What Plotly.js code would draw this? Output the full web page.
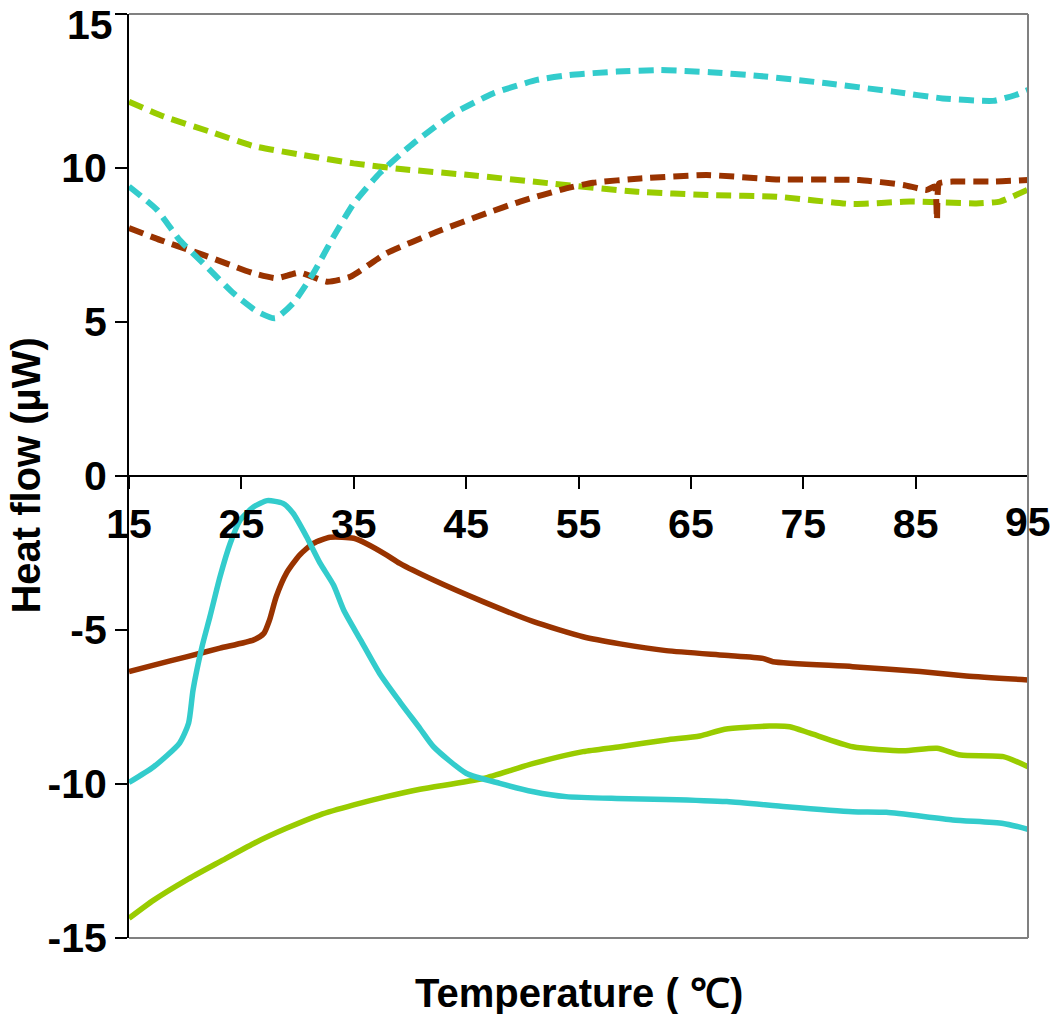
<!DOCTYPE html>
<html>
<head>
<meta charset="utf-8">
<script src="https://cdn.plot.ly/plotly-3.0.1.min.js"></script>
<style>
  body { margin: 0; background: #fff; }
  #plot { width: 1050px; height: 1014px; }
</style>
</head>
<body>
<div id="plot"></div>
<script>
// heating scans (solid)
var cyanX = [15, 17.2, 19.5, 20.3, 20.7, 21.5, 22.2, 23.1, 24.0, 24.9, 26.1, 27.3, 28.7, 29.6, 30.8, 32.0, 33.2, 34.1, 35.6, 37.3, 39.1, 40.9, 42.1, 45.0, 48.0, 51.0, 53.9, 58.4, 62.8, 68.2, 73.5, 79.4, 82.4, 88.3, 92.8, 95];
var cyanY = [-9.95, -9.44, -8.67, -8.03, -6.95, -5.54, -4.57, -3.27, -2.19, -1.43, -1.0, -0.80, -0.89, -1.21, -1.97, -2.83, -3.54, -4.35, -5.32, -6.41, -7.33, -8.2, -8.79, -9.65, -9.98, -10.25, -10.41, -10.47, -10.5, -10.57, -10.74, -10.9, -10.92, -11.17, -11.28, -11.47];

var brownX = [15, 17.2, 20.1, 23.1, 26.1, 27.0, 27.5, 28.1, 29.0, 30.2, 31.4, 32.9, 35.0, 36.1, 37.9, 39.1, 42.1, 46.5, 51.0, 55.4, 58.7, 62.8, 68.0, 71.4, 72.3, 79.4, 85.4, 89.5, 95];
var brownY = [-6.35, -6.14, -5.87, -5.59, -5.32, -5.11, -4.68, -3.92, -3.16, -2.56, -2.19, -1.99, -2.02, -2.19, -2.56, -2.84, -3.38, -4.08, -4.73, -5.22, -5.45, -5.67, -5.82, -5.92, -6.03, -6.19, -6.35, -6.49, -6.62];

var greenX = [15, 17.2, 20.1, 23.1, 26.1, 29.0, 32.0, 35.0, 37.9, 40.9, 46.5, 51.0, 55.4, 58.7, 62.8, 65.8, 68.0, 72.0, 73.8, 75.6, 79.4, 83.9, 86.9, 89.0, 92.8, 95];
var greenY = [-14.36, -13.77, -13.12, -12.52, -11.93, -11.44, -11.0, -10.68, -10.41, -10.17, -9.82, -9.33, -8.95, -8.79, -8.57, -8.44, -8.22, -8.12, -8.14, -8.35, -8.79, -8.92, -8.84, -9.06, -9.11, -9.44];

// cooling scans (dashed)
var cyanDashX = [15, 17.5, 19.5, 21.9, 24.3, 26.4, 28.0, 29.6, 31.4, 33.2, 35.0, 37.3, 40.3, 43.9, 47.4, 51.3, 54.2, 58.4, 62.2, 66.7, 71.1, 77.1, 83.0, 87.4, 91.9, 93.9, 95];
var cyanDashY = [9.4, 8.64, 7.66, 6.8, 5.93, 5.34, 5.12, 5.61, 6.58, 7.77, 8.85, 9.83, 10.8, 11.77, 12.42, 12.86, 13.02, 13.13, 13.18, 13.11, 12.99, 12.75, 12.48, 12.26, 12.18, 12.37, 12.53];

var brownDashX = [15, 17.8, 21.6, 26.1, 28.1, 30.2, 32.6, 34.7, 37.9, 42.4, 46.8, 49.8, 53.9, 56.3, 60.5, 66.4, 72.6, 80.0, 83.9, 86.0, 86.7, 86.9, 87.1, 88.3, 91.9, 95];
var brownDashY = [8.05, 7.66, 7.18, 6.58, 6.42, 6.6, 6.31, 6.47, 7.23, 7.93, 8.53, 8.91, 9.34, 9.52, 9.66, 9.77, 9.63, 9.61, 9.45, 9.29, 9.4, 8.31, 9.5, 9.56, 9.56, 9.61];

var greenDashX = [15, 18.1, 22.2, 26.1, 30.5, 35.0, 39.4, 45.3, 52.5, 60.2, 66.7, 72.6, 79.4, 84.5, 90.4, 92.5, 95];
var greenDashY = [12.15, 11.67, 11.18, 10.71, 10.42, 10.15, 9.96, 9.77, 9.5, 9.23, 9.12, 9.07, 8.83, 8.91, 8.85, 8.91, 9.3];

var xTicks = [15, 25, 35, 45, 55, 65, 75, 85, 95];
var xTickText = ["15", "25", "35", "45", "55", "65", "75", "85", ""];
var yTicks = [-15, -10, -5, 0, 5, 10, 15];
// plain hyphens like the original; the edge labels (15 on y, 95 on x) are placed
// as annotations because plotly drops tick labels that run past the page edge
var yTickText = ["-15", "-10", "-5", "0", "5", "10", ""];

var CYAN = "#33CCCC", BROWN = "#993300", GREEN = "#99CC00";
var FONT = "Liberation Sans, Arial, sans-serif";
var TICKFONT = { size: 41, weight: "bold", family: FONT };

function solid(x, y, c) {
    return { x: x, y: y, type: "scatter", mode: "lines",
             line: { color: c, width: 5.5, shape: "spline", smoothing: 0.6 } };
}
function dashed(x, y, c) {
    return { x: x, y: y, type: "scatter", mode: "lines",
             line: { color: c, width: 6, dash: "15px,8px", shape: "spline", smoothing: 0.5 } };
}

var traces = [
    dashed(greenDashX, greenDashY, GREEN),
    dashed(brownDashX, brownDashY, BROWN),
    dashed(cyanDashX, cyanDashY, CYAN),
    solid(greenX, greenY, GREEN),
    solid(brownX, brownY, BROWN),
    solid(cyanX, cyanY, CYAN)
];

var layout = {
    width: 1050,
    height: 1014,
    showlegend: false,
    paper_bgcolor: "#fff",
    plot_bgcolor: "#fff",
    margin: { l: 129, r: 22, t: 14, b: 76 },
    font: { family: FONT, color: "#000" },
    xaxis: {
        range: [15, 95],
        tickvals: xTicks,
        ticktext: xTickText,
        anchor: "free",
        position: 0.5,
        showline: true, linecolor: "#000", linewidth: 2,
        ticks: "outside", ticklen: 12, tickwidth: 2, tickcolor: "#000",
        showgrid: false, zeroline: false,
        tickfont: TICKFONT
    },
    yaxis: {
        range: [-15, 15],
        tickvals: yTicks,
        ticktext: yTickText,
        showline: true, linecolor: "#000", linewidth: 2,
        ticks: "outside", ticklen: 12, tickwidth: 2, tickcolor: "#000",
        showgrid: false, zeroline: false,
        tickfont: TICKFONT
    },
    shapes: [
        { type: "line", xref: "paper", yref: "paper", x0: 0, x1: 1, y0: 1, y1: 1, line: { color: "#808080", width: 2 } },
        { type: "line", xref: "paper", yref: "paper", x0: 1, x1: 1, y0: 0, y1: 1, line: { color: "#808080", width: 2 } },
        { type: "line", xref: "paper", yref: "paper", x0: 0, x1: 1, y0: 0, y1: 0, line: { color: "#808080", width: 2 } }
    ],
    annotations: [
        { text: yTicks[6] + "", xref: "paper", yref: "paper", x: 0, y: 1, xshift: -14, yshift: 14,
          xanchor: "right", yanchor: "top", showarrow: false, font: TICKFONT },
        { text: xTicks[8] + "", xref: "x", yref: "y", x: xTicks[8], y: 0, yshift: -46,
          xanchor: "center", yanchor: "middle", showarrow: false, font: TICKFONT },
        { text: "Temperature ( ℃)", xref: "paper", yref: "paper", x: 0.5, y: -0.06,
          xanchor: "center", yanchor: "middle", showarrow: false,
          font: { size: 40, weight: "bold", family: FONT } },
        { text: "Heat flow (µW)", xref: "paper", yref: "paper", x: -0.115, y: 0.5,
          xanchor: "center", yanchor: "middle", textangle: -90, showarrow: false,
          font: { size: 40, weight: "bold", family: FONT } }
    ]
};

Plotly.newPlot("plot", traces, layout, { displayModeBar: false, staticPlot: true });
</script>
</body>
</html>
